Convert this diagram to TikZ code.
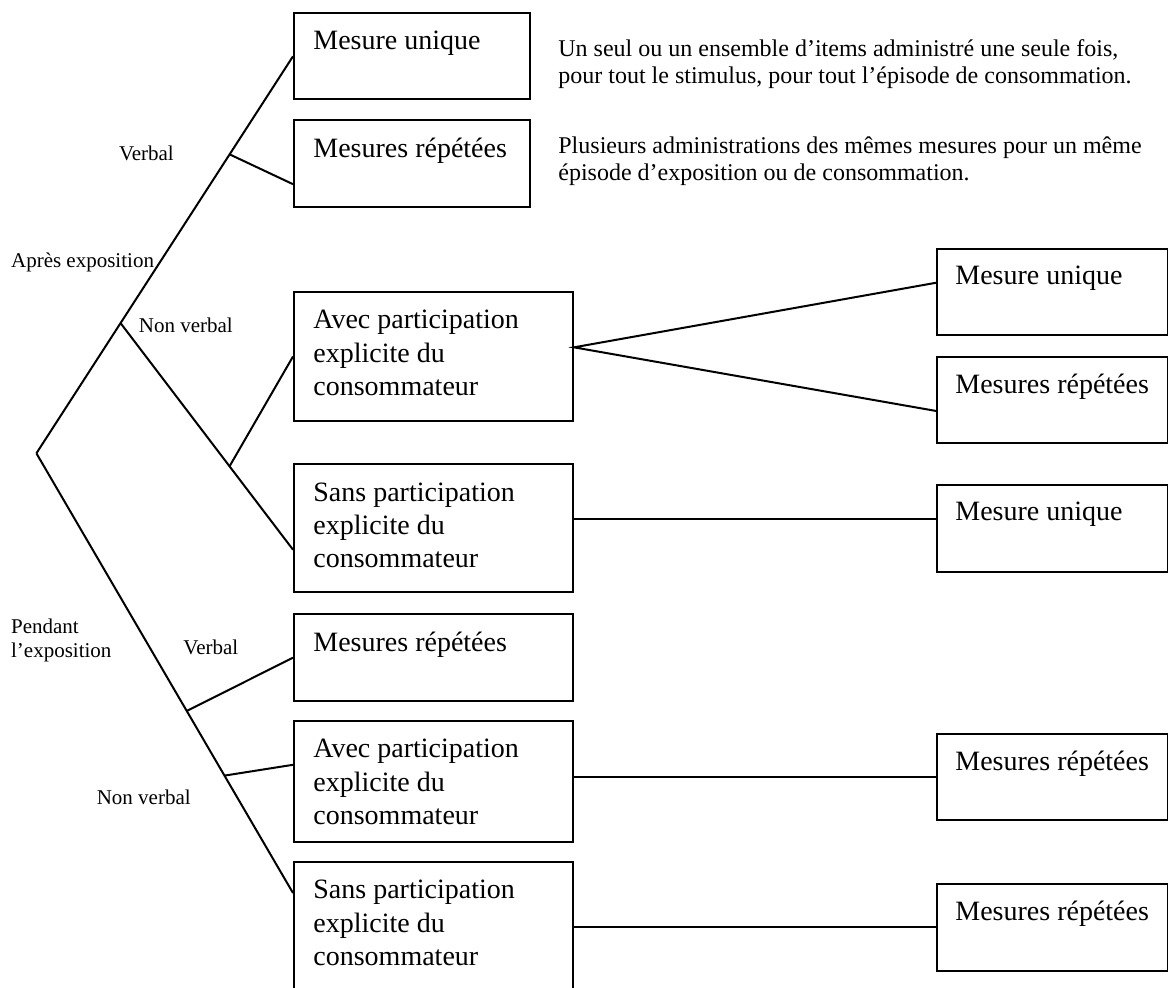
\documentclass[tikz,border=0pt]{standalone}
\usepackage{fontspec}
\setmainfont{Liberation Serif}
\usetikzlibrary{calc}

\tikzset{
  box/.style 2 args={draw, line width=1pt, anchor=north west, inner sep=0pt,
    minimum width=#1*0.5pt, minimum height=#2*0.5pt},
  boxtext/.style={anchor=north west, inner sep=0pt, align=left, font=\fontsize{14}{16.6}\selectfont},
  note/.style={anchor=north west, inner sep=0pt, align=left, font=\fontsize{12}{13.8}\selectfont},
  lbl/.style={anchor=west, inner sep=0pt, align=left, font=\fontsize{10.5}{11.9}\selectfont},
  link/.style={line width=1pt}
}

\begin{document}
\begin{tikzpicture}[x=0.5pt,y=-0.5pt]

\useasboundingbox (0,0) rectangle (1168,987);
\clip (0,0) rectangle (1168,987);

% left column
\node[box={236}{86}] (mu1) at (293,12.3) {};
\node[box={236}{86.4}] (mr1) at (293,119.3) {};
\node[box={279}{129}] (ap1) at (293,291) {};
\node[box={279}{127.7}] (sp1) at (293,463.3) {};
\node[box={279}{86.7}] (mr2) at (293,613.3) {};
\node[box={279}{120.7}] (ap2) at (293,720) {};
\node[box={279}{160}] (sp2) at (293,861) {};

% right column
\node[box={230.5}{86}] (mu2) at (936,248) {};
\node[box={230.5}{86}] (mr3) at (936,355.5) {};
\node[box={230.5}{86.5}] (mu3) at (936,484) {};
\node[box={230.5}{86.6}] (mr4) at (936,732.7) {};
\node[box={230.5}{87.3}] (mr5) at (936,882.7) {};

% box texts
\node[boxtext] (mu1t) at ($(mu1.north west)+(20,18)$) {Mesure unique};
\node[boxtext] (mr1t) at ($(mr1.north west)+(20,18)$) {Mesures répétées};
\node[boxtext] (ap1t) at ($(ap1.north west)+(20,19)$) {Avec participation\\explicite du\\consommateur};
\node[boxtext] (sp1t) at ($(sp1.north west)+(20,19)$) {Sans participation\\explicite du\\consommateur};
\node[boxtext] (mr2t) at ($(mr2.north west)+(20,18)$) {Mesures répétées};
\node[boxtext] (ap2t) at ($(ap2.north west)+(20,19)$) {Avec participation\\explicite du\\consommateur};
\node[boxtext] (sp2t) at ($(sp2.north west)+(20,19)$) {Sans participation\\explicite du\\consommateur};
\node[boxtext] (mu2t) at ($(mu2.north west)+(19,18)$) {Mesure unique};
\node[boxtext] (mr3t) at ($(mr3.north west)+(19,18)$) {Mesures répétées};
\node[boxtext] (mu3t) at ($(mu3.north west)+(19,18)$) {Mesure unique};
\node[boxtext] (mr4t) at ($(mr4.north west)+(19,18)$) {Mesures répétées};
\node[boxtext] (mr5t) at ($(mr5.north west)+(19,18)$) {Mesures répétées};

% notes
\node[note] (def1) at (558,39) {Un seul ou un ensemble d’items administré une seule fois,\\pour tout le stimulus, pour tout l’épisode de consommation.};
\node[note] (def2) at (558,136) {Plusieurs administrations des mêmes mesures pour un même\\épisode d’exposition ou de consommation.};

% branch labels
\node[lbl] (verb1) at (118.6,153) {Verbal};
\node[lbl] (apres) at (10.7,262) {Après exposition};
\node[lbl] (nonv1) at (138.5,325) {Non verbal};
\node[lbl, anchor=north west] (pend) at (10.7,619) {Pendant\\l’exposition};
\node[lbl] (verb2) at (183,647) {Verbal};
\node[lbl] (nonv2) at (96.4,797) {Non verbal};

% tree
\coordinate (root) at (36.4,453.3);
\draw[link] (root) -- (mu1.west);
\coordinate (kv1) at ($(root)!0.753!(mu1.west)$);
\coordinate (kn1) at ($(root)!0.328!(mu1.west)$);
\coordinate (sp1in) at ($(sp1.north west)!0.666!(sp1.south west)$);
\draw[link] (kv1) -- ($(mr1.north west)!0.734!(mr1.south west)$);
\draw[link] (kn1) -- (sp1in);
\coordinate (kc1) at ($(kn1)!0.632!(sp1in)$);
\draw[link] (kc1) -- (ap1.west);

\coordinate (sp2in) at ($(sp2.north west)+(0,32)$);
\draw[link] (root) -- (sp2in);
\coordinate (kv2) at ($(root)!0.586!(sp2in)$);
\coordinate (kn2) at ($(root)!0.733!(sp2in)$);
\draw[link] (kv2) -- (mr2.west);
\draw[link] (kn2) -- ($(ap2.north west)!0.365!(ap2.south west)$);

% right links
\coordinate (ap1out) at ($(ap1.north east)!0.43!(ap1.south east)$);
\draw[link] ($(mu2.north west)!0.395!(mu2.south west)$) -- (ap1out)
  -- ($(mr3.north west)!0.63!(mr3.south west)$);
\coordinate (mu3in) at ($(mu3.north west)!0.39!(mu3.south west)$);
\draw[link] (sp1.east |- mu3in) -- (mu3in);
\draw[link] (ap2.east |- mr4.west) -- (mr4.west);
\draw[link] (sp2.east |- mr5.west) -- (mr5.west);

\end{tikzpicture}
\end{document}
